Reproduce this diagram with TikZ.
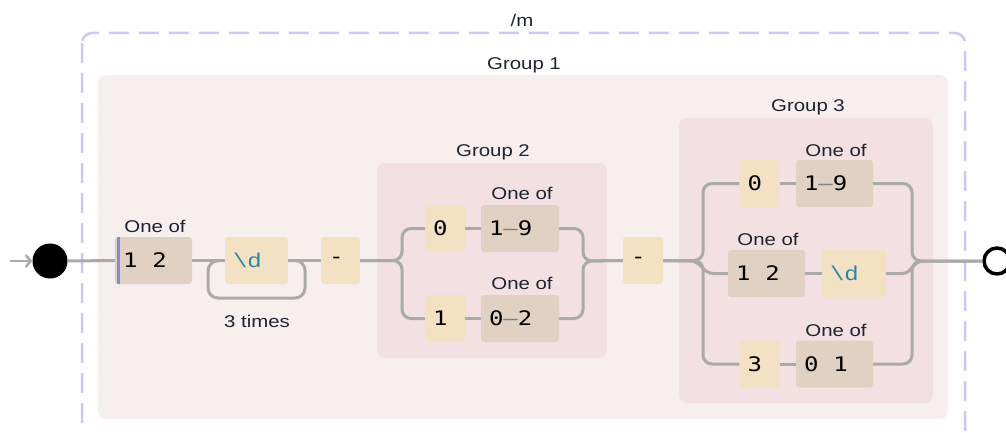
\documentclass[tikz,border=0pt]{standalone}
\usepackage{fontspec}
\setmainfont{Liberation Sans}[FakeStretch=1.2]
\newfontfamily\boxfont{DejaVu Sans Mono}[FakeStretch=1.2]
\newfontfamily\escfont{Liberation Mono}[FakeStretch=1.2]
\usetikzlibrary{arrows.meta}
\definecolor{grpone}{HTML}{F7EEEE}
\definecolor{grptwo}{HTML}{F2E0E2}
\definecolor{litc}{HTML}{F2E2C3}
\definecolor{clsc}{HTML}{E0D1C2}
\definecolor{wire}{HTML}{AAAAAA}
\definecolor{dashc}{HTML}{C9C9F4}
\definecolor{barc}{HTML}{7A88F0}
\definecolor{escc}{HTML}{2B86A5}
\definecolor{labc}{HTML}{1E2430}
\newcommand{\rng}[2]{#1{\color{gray}–}#2}
\newcommand{\esc}[1]{{\escfont\color{escc}\textbackslash #1}}
\newcommand{\pair}[2]{#1\hspace{15pt}#2}
\begin{document}
\begin{tikzpicture}[x=1pt,y=-1pt,
  lbl/.style={font=\fontsize{17}{20}\selectfont, text=labc, inner sep=0pt},
  box/.style={rounded corners=3pt, inner xsep=8pt, inner ysep=0pt, minimum height=47pt,
    align=left, font=\boxfont\fontsize{20}{24}\selectfont, text=black},
  lit/.style={box, fill=litc, text width=#1},
  cls/.style={box, fill=clsc, text width=#1},
  wireline/.style={draw=wire, line width=3pt},
  grpbox/.style={rounded corners=8pt},
]
\useasboundingbox (0,0) rectangle (1006,433);
% outer regex box
\draw[dashc, line width=2.5pt, dash pattern=on 20pt off 10pt, rounded corners=10pt] (82,33) rectangle (965,445);
\node[lbl] (slashm) at (522,20) {/m};
% groups
\fill[grpone, grpbox] (98,75) rectangle (948,419);
\node[lbl] (grp1) at (524,65) {Group 1};
\fill[grptwo, grpbox] (377,163) rectangle (607,358);
\node[lbl] (grp2) at (493,152) {Group 2};
\fill[grptwo, grpbox] (679,118) rectangle (933,403);
\node[lbl] (grp3) at (808,107) {Group 3};
% start / end
\coordinate (entry) at (10,261);
\node[circle, fill=black, minimum size=35pt, inner sep=0pt] (start) at (50,261) {};
\node[circle, draw=black, fill=white, line width=3.5pt, minimum size=26pt, inner sep=0pt] (finish) at (997,261) {};
% main sequence
\node[cls=61pt] (m12) at (153.5,260.5) {\pair{1}{2}};
\node[lbl] (ofm) at (155,226) {One of};
\draw[barc, line width=3pt] ([xshift=3.5pt]m12.south west) -- ([xshift=3.5pt]m12.north west);
\node[lit=47pt] (md) at (256.5,260.5) {\esc{d}};
\node[lbl] (times) at (257,321) {3 times};
\node[lit=23pt] (mh1) at (340.5,260.5) {-};
% group 2
\node[lit=24pt] (ga) at (445,228.5) {0};
\node[cls=62pt] (gb) at (520,228.5) {\rng{1}{9}};
\node[lbl] (ofgb) at (522,193) {One of};
\node[lit=24pt] (gc) at (445,318.5) {1};
\node[cls=62pt] (gd) at (520,318.5) {\rng{0}{2}};
\node[lbl] (ofgd) at (522,283) {One of};
\node[lit=24pt] (mh2) at (643,260.5) {-};
% group 3
\node[lit=24pt] (ha) at (759.5,183.5) {0};
\node[cls=61pt] (hb) at (834.5,183.5) {\rng{1}{9}};
\node[lbl] (ofhb) at (836,150) {One of};
\node[cls=61pt] (hc) at (766.5,273.5) {\pair{1}{2}};
\node[lbl] (ofhc) at (768,239) {One of};
\node[lit=48pt] (hd) at (854,273.5) {\esc{d}};
\node[lit=24pt] (he) at (759.5,364) {3};
\node[cls=61pt] (hf) at (834.5,364) {\pair{0}{1}};
\node[lbl] (ofhf) at (836,330) {One of};
% helper coordinates
\coordinate (loopR) at (305,298);
\coordinate (loopL) at (208,261);
\coordinate (s2top) at (402,228.5);
\coordinate (s2bot) at (402,318.5);
\coordinate (j2) at (583,261);
\coordinate (s3top) at (703,183.5);
\coordinate (s3bot) at (703,364);
\coordinate (s3m) at (690,261);
\coordinate (s3mm) at (714,273.5);
\coordinate (j3) at (912,261);
\coordinate (j3mm) at (902,273.5);
\coordinate (j3m) at (924,261);
% wires
\draw[wire, line width=2.5pt, -{Straight Barb[length=5pt,width=12pt]}] (entry) -- (start.west);
\draw[wireline] (start.east) -- (m12.west);
\draw[wireline] (m12.east) -- (md.west);
\draw[wireline] (md.east) -- (mh1.west);
\draw[wireline, rounded corners=10pt] (md.east) -| (loopR) -| (loopL) -- (md.west);
\draw[wireline, rounded corners=9pt] (mh1.east) -| (s2top) -- (ga.west);
\draw[wireline, rounded corners=9pt] (mh1.east) -| (s2bot) -- (gc.west);
\draw[wireline] (ga.east) -- (gb.west);
\draw[wireline] (gc.east) -- (gd.west);
\draw[wireline, rounded corners=9pt] (gb.east) -| (j2) -- (mh2.west);
\draw[wireline, rounded corners=9pt] (gd.east) -| (j2) -- (mh2.west);
\draw[wireline, rounded corners=9pt] (mh2.east) -| (s3top) -- (ha.west);
\draw[wireline, rounded corners=9pt] (mh2.east) -| (s3bot) -- (he.west);
\draw[wireline] (mh2.east) -- (s3m) .. controls (702,261) and (702,273.5) .. (s3mm) -- (hc.west);
\draw[wireline] (ha.east) -- (hb.west);
\draw[wireline] (hc.east) -- (hd.west);
\draw[wireline] (he.east) -- (hf.west);
\draw[wireline, rounded corners=9pt] (hb.east) -| (j3) -- (finish.west);
\draw[wireline, rounded corners=9pt] (hf.east) -| (j3) -- (finish.west);
\draw[wireline] (hd.east) -- (j3mm) .. controls (912,273.5) and (912,261) .. (j3m);
\end{tikzpicture}
\end{document}
